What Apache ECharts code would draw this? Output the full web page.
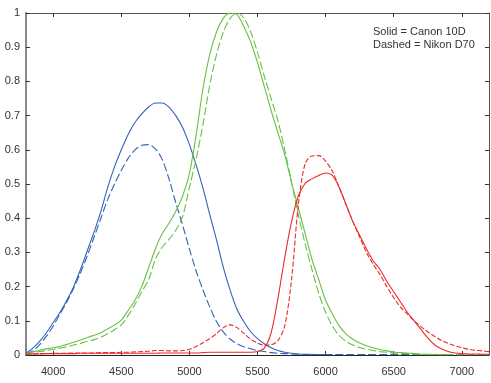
<!DOCTYPE html>
<html><head><meta charset="utf-8">
<script src="https://cdn.jsdelivr.net/npm/echarts@6/dist/echarts.min.js"></script>
<style>html,body{margin:0;padding:0;background:#fff}#c{width:491px;height:383px}</style>
</head><body><div id="c"></div>
<script>
const wavelengths = [];
for (let w = 3800; w <= 7200; w += 50) wavelengths.push(w);
const xTicks = [4000, 4500, 5000, 5500, 6000, 6500, 7000];

const canonBlue = [0.005,0.02,0.04,0.065,0.095,0.125,0.16,0.2,0.25,0.305,0.36,0.42,0.49,0.55,0.60,0.645,0.68,0.705,0.725,0.737,0.737,0.725,0.70,0.665,0.615,0.555,0.487,0.41,0.335,0.255,0.188,0.133,0.097,0.068,0.048,0.033,0.021,0.013,0.008,0.005,0.003,0.002,0.002,0.001,0.001,0.001,
 null,null,null,null,null,null,null,null,null,null,null,null,null,null,null,null,null,null,null,null,null,null,null];
const nikonBlue = [0.003,0.012,0.03,0.055,0.085,0.12,0.155,0.195,0.24,0.29,0.345,0.40,0.455,0.50,0.54,0.575,0.60,0.613,0.615,0.603,0.572,0.515,0.445,0.38,0.31,0.245,0.19,0.14,0.097,0.067,0.046,0.033,0.024,0.018,0.013,0.01,0.007,0.005,0.004,0.003,0.002,
 0.001,0.001,0.001,0.001,0.001,0.001,0.001,0.001,0.001,0.001,0.001,0.001,0.001,0.001,0.001,0.001,0.001,0.001,0.001,0.001,0.001,0.001,0.001,0.001,0.001,0.001,0.001,0.001];
const canonGreen = [0.004,0.009,0.014,0.018,0.021,0.025,0.031,0.037,0.044,0.051,0.058,0.065,0.077,0.088,0.102,0.13,0.16,0.2,0.255,0.31,0.355,0.385,0.42,0.465,0.53,0.645,0.78,0.88,0.945,0.985,1.0,0.995,0.96,0.915,0.855,0.785,0.715,0.65,0.585,0.505,0.43,0.355,0.28,0.22,0.16,0.12,0.085,0.062,0.046,0.035,0.027,0.021,0.016,0.012,0.009,0.007,0.006,0.004,0.002,0.001,0.001,0.001,0.001,
 null,null,null,null,null,null];
const nikonGreen = [0.002,0.006,0.01,0.013,0.016,0.02,0.024,0.029,0.034,0.04,0.045,0.052,0.062,0.074,0.088,0.115,0.148,0.185,0.22,0.28,0.315,0.338,0.365,0.405,0.49,0.575,0.675,0.79,0.88,0.945,0.985,1.0,0.985,0.945,0.885,0.815,0.75,0.685,0.60,0.505,0.41,0.325,0.25,0.18,0.125,0.085,0.057,0.04,0.029,0.022,0.017,0.013,0.01,0.008,0.006,0.005,0.004,0.003,0.003,0.002,0.002,
 0.001,0.001,0.001,0.001,0.001,0.001,0.001,0.001];
const canonRed = [0.002,0.003,0.003,0.004,0.004,0.004,0.004,0.004,0.005,0.005,0.005,0.005,0.005,0.005,0.005,0.005,0.005,0.005,0.005,0.005,0.006,0.006,0.006,0.006,0.006,0.006,0.007,0.008,0.008,0.008,0.008,0.008,0.008,0.008,0.01,0.02,0.065,0.165,0.285,0.39,0.465,0.502,0.515,0.525,0.532,0.525,0.49,0.44,0.39,0.35,0.31,0.275,0.25,0.215,0.185,0.155,0.125,0.1,0.075,0.05,0.03,0.018,0.01,0.006,0.004,0.003,0.003,0.002,0.002];
const nikonRed = [0.002,0.003,0.004,0.004,0.005,0.005,0.005,0.006,0.006,0.006,0.006,0.007,0.007,0.007,0.008,0.008,0.009,0.01,0.011,0.013,0.013,0.012,0.012,0.013,0.017,0.025,0.036,0.048,0.063,0.08,0.088,0.08,0.063,0.046,0.035,0.029,0.03,0.042,0.085,0.22,0.44,0.56,0.582,0.583,0.567,0.537,0.49,0.44,0.39,0.345,0.30,0.265,0.235,0.2,0.168,0.14,0.12,0.1,0.083,0.068,0.055,0.043,0.034,0.027,0.021,0.017,0.014,0.012,0.01];

const BLUE = '#3262b6', GREEN = '#6cbf45', RED = '#ee2a2a';
const FONT = '"Liberation Sans", Arial, sans-serif';
const pairs = arr => wavelengths.map((w, i) => [w, arr[i]]);
function line(name, arr, color, dash) {
  return { name, type: 'line', data: pairs(arr), smooth: 0.3, showSymbol: false, connectNulls: false,
    lineStyle: { color, width: 1.1, type: dash || 'solid' }, itemStyle: { color }, silent: true, animation: false };
}
function axisLine(color, width) {
  return { show: true, onZero: false, lineStyle: { color, width } };
}
const tick = { show: true, inside: true, length: 4, lineStyle: { color: '#333' } };
const chart = echarts.init(document.getElementById('c'), null, { renderer: 'canvas' });
chart.setOption({
  animation: false,
  grid: { left: 26, right: 2, top: 13, bottom: 28, containLabel: false },
  xAxis: [
    { type: 'value', min: 3800, max: 7200, position: 'bottom', splitLine: { show: false },
      axisLine: axisLine('#222', 1),
      axisTick: Object.assign({ customValues: xTicks }, tick),
      axisLabel: { customValues: xTicks, formatter: v => String(v), color: '#333', fontFamily: FONT, fontSize: 11, margin: 11 } },
    { type: 'value', min: 3800, max: 7200, position: 'top', splitLine: { show: false },
      axisLine: axisLine('#555', 1),
      axisTick: Object.assign({ customValues: xTicks }, tick),
      axisLabel: { show: false } }
  ],
  yAxis: [
    { type: 'value', min: 0, max: 1, interval: 0.1, position: 'left', splitLine: { show: false },
      axisLine: axisLine('#888', 2),
      axisTick: tick,
      axisLabel: { formatter: v => String(Math.round(v * 10) / 10), color: '#333', fontFamily: FONT, fontSize: 11, margin: 6 } },
    { type: 'value', min: 0, max: 1, interval: 0.1, position: 'right', splitLine: { show: false },
      axisLine: axisLine('#555', 1),
      axisTick: tick,
      axisLabel: { show: false } }
  ],
  graphic: [
    { type: 'text', left: 373, top: 26, style: { text: 'Solid = Canon 10D', fill: '#333', font: '11px ' + FONT } },
    { type: 'text', left: 373, top: 39, style: { text: 'Dashed = Nikon D70', fill: '#333', font: '11px ' + FONT } }
  ],
  series: [
    line('Canon 10D blue', canonBlue, BLUE),
    line('Nikon D70 blue', nikonBlue, BLUE, [8, 3]),
    line('Canon 10D green', canonGreen, GREEN),
    line('Nikon D70 green', nikonGreen, GREEN, [8, 3]),
    line('Canon 10D red', canonRed, RED),
    line('Nikon D70 red', nikonRed, RED, [5, 2])
  ]
});
</script></body></html>
